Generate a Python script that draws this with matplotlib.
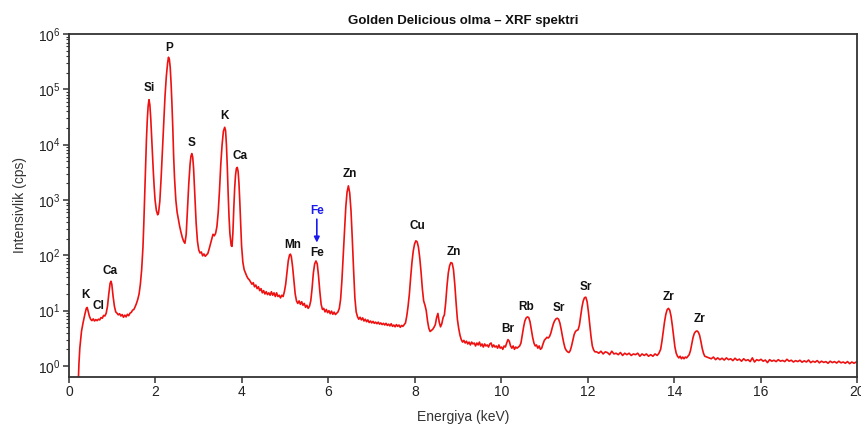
import numpy as np
import matplotlib
matplotlib.use("Agg")
import matplotlib.pyplot as plt
from matplotlib.ticker import LogLocator, NullFormatter, FixedLocator

plt.rcParams['font.family'] = ['Liberation Sans', 'DejaVu Sans']
plt.rcParams['mathtext.fontset'] = 'custom'
plt.rcParams['mathtext.rm'] = 'Liberation Sans'
plt.rcParams['mathtext.it'] = 'Liberation Sans'
plt.rcParams['mathtext.bf'] = 'Liberation Sans:bold'
plt.rcParams['mathtext.default'] = 'regular'

# ---- spectrum: (energy keV, intensity cps) ----
spectrum_low = [
    (0.21, 0.4), (0.23, 1.1), (0.25, 2.1), (0.29, 4.3), (0.33, 6.3), (0.37, 8.8),
    (0.40, 11.0), (0.42, 11.4), (0.44, 10.0), (0.47, 8.0), (0.50, 7.0), (0.53, 6.6),
    (0.56, 7.1), (0.59, 6.5), (0.62, 6.9), (0.65, 6.6), (0.68, 7.0), (0.71, 6.8),
    (0.74, 7.5), (0.77, 7.3), (0.80, 8.2), (0.83, 8.0), (0.86, 9.0), (0.89, 12.0),
    (0.92, 20.0), (0.95, 31.0), (0.97, 34.0), (0.99, 30.0), (1.02, 18.0), (1.05, 12.0),
    (1.08, 9.5), (1.11, 9.0), (1.14, 8.4), (1.17, 8.8), (1.20, 8.0), (1.23, 8.5),
    (1.26, 7.6), (1.29, 8.3), (1.32, 7.7), (1.35, 8.6), (1.38, 8.1), (1.41, 9.0),
    (1.44, 9.3), (1.47, 10.2), (1.50, 10.5), (1.53, 11.8), (1.56, 13.5), (1.59, 16.0),
]
spectrum_major = [
    (1.62, 20), (1.65, 30), (1.68, 55), (1.71, 140), (1.73, 380), (1.75, 1200),
    (1.77, 4000), (1.79, 12000), (1.81, 28000), (1.83, 50000), (1.85, 65000),
    (1.87, 52000), (1.89, 30000), (1.91, 14000), (1.93, 6500), (1.95, 3200),
    (1.97, 1700), (1.99, 1000), (2.02, 650), (2.05, 540), (2.07, 580), (2.10, 950),
    (2.13, 2500), (2.16, 8000), (2.19, 25000), (2.22, 75000), (2.25, 170000),
    (2.28, 300000), (2.30, 380000), (2.32, 350000), (2.34, 250000), (2.36, 130000),
    (2.38, 55000), (2.40, 20000), (2.42, 6000), (2.44, 2500), (2.47, 1000),
    (2.50, 600), (2.53, 440), (2.56, 330), (2.59, 260), (2.62, 210), (2.65, 180),
    (2.68, 165), (2.71, 240), (2.74, 700), (2.77, 2000), (2.80, 4500), (2.82, 6200),
    (2.84, 6900), (2.86, 6000), (2.88, 3800), (2.90, 1800), (2.92, 800), (2.94, 380),
    (2.97, 180), (3.00, 125), (3.03, 110), (3.06, 115), (3.09, 98), (3.12, 106),
    (3.15, 96), (3.18, 102), (3.21, 108), (3.24, 130), (3.27, 160), (3.30, 200),
    (3.33, 240), (3.36, 225), (3.39, 250), (3.42, 330), (3.45, 600), (3.48, 1500),
    (3.51, 4500), (3.54, 10000), (3.57, 17500), (3.60, 20600), (3.62, 18000),
    (3.64, 10000), (3.66, 4000), (3.68, 1300), (3.70, 500), (3.72, 250), (3.75, 150),
    (3.77, 145), (3.79, 260), (3.81, 700), (3.83, 1600), (3.85, 2800), (3.87, 3700),
    (3.89, 3880), (3.91, 3300), (3.93, 2000), (3.95, 900), (3.97, 350), (3.99, 150),
]
spectrum_mid = [
    (4.02, 75), (4.05, 55), (4.08, 48), (4.11, 42), (4.14, 38), (4.17, 36), (4.20, 33),
    (4.23, 30), (4.26, 32), (4.29, 27), (4.32, 29), (4.35, 25), (4.38, 27), (4.41, 23),
    (4.44, 25), (4.47, 21), (4.50, 23), (4.53, 20), (4.56, 22), (4.59, 19.5), (4.62, 21),
    (4.65, 19), (4.68, 22), (4.71, 19), (4.74, 21), (4.77, 18), (4.80, 21), (4.83, 18),
    (4.86, 19), (4.89, 17), (4.92, 19), (4.95, 18), (4.98, 22), (5.01, 30), (5.04, 50),
    (5.07, 80), (5.10, 102), (5.12, 105), (5.14, 95), (5.17, 62), (5.20, 35), (5.23, 20),
    (5.26, 15), (5.29, 13.5), (5.32, 15), (5.35, 13), (5.38, 14.5), (5.41, 12.5),
    (5.44, 13.5), (5.47, 11.5), (5.50, 12.5), (5.53, 11), (5.56, 12), (5.59, 15),
    (5.62, 25), (5.65, 48), (5.68, 70), (5.71, 79), (5.74, 70), (5.77, 42), (5.80, 22),
    (5.83, 13), (5.86, 10.5), (5.89, 11), (5.92, 9.5), (5.95, 10.5), (5.98, 9.2),
    (6.01, 10), (6.04, 8.8), (6.07, 9.8), (6.10, 8.6), (6.13, 9.4), (6.16, 8.5),
    (6.19, 9.0), (6.22, 9.5), (6.25, 11), (6.28, 16), (6.31, 35), (6.34, 100),
    (6.37, 300), (6.40, 750), (6.43, 1400), (6.46, 1800), (6.49, 1350), (6.52, 650),
    (6.55, 200), (6.58, 55), (6.61, 17), (6.64, 9.5), (6.67, 7.8), (6.70, 7.0),
    (6.73, 7.6), (6.76, 6.8), (6.79, 7.4), (6.82, 6.5), (6.85, 7.0), (6.88, 6.3),
    (6.91, 6.8), (6.94, 6.1), (6.97, 6.5), (7.00, 6.0), (7.03, 6.4), (7.06, 5.9),
    (7.09, 6.2), (7.12, 5.8), (7.15, 6.2), (7.18, 5.7), (7.21, 6.0), (7.24, 5.6),
    (7.27, 5.9), (7.30, 5.5), (7.33, 5.9), (7.36, 5.4), (7.39, 5.7), (7.42, 5.3),
    (7.45, 5.8), (7.48, 5.2), (7.51, 5.5), (7.54, 5.1), (7.57, 5.6), (7.60, 5.2),
    (7.63, 5.5), (7.66, 5.0), (7.69, 5.4), (7.72, 5.2), (7.75, 5.6),
]
spectrum_high = [
    (7.78, 6.0), (7.81, 8), (7.84, 12), (7.87, 20), (7.90, 40), (7.93, 75), (7.96, 120),
    (7.99, 160), (8.02, 183), (8.05, 175), (8.08, 140), (8.11, 90), (8.14, 50),
    (8.17, 25), (8.20, 15), (8.23, 12.6), (8.26, 10), (8.29, 6.5), (8.32, 4.8),
    (8.35, 4.2), (8.38, 4.4), (8.41, 4.6), (8.44, 5.0), (8.47, 5.6), (8.50, 7.5),
    (8.53, 8.9), (8.56, 6.2), (8.59, 5.1), (8.62, 5.8), (8.65, 7.5), (8.68, 8.4),
    (8.71, 14), (8.74, 28), (8.77, 48), (8.80, 65), (8.83, 74), (8.86, 72), (8.89, 55),
    (8.92, 30), (8.95, 14), (8.98, 7), (9.01, 4.8), (9.04, 3.6), (9.07, 3.0),
    (9.10, 2.7), (9.13, 2.9), (9.16, 2.6), (9.19, 2.8), (9.22, 2.5), (9.25, 2.7),
    (9.28, 2.4), (9.31, 2.7), (9.34, 2.5), (9.37, 2.6), (9.40, 2.3), (9.43, 2.6),
    (9.46, 2.4), (9.49, 2.7), (9.52, 2.3), (9.55, 2.5), (9.58, 2.2), (9.61, 2.5),
    (9.64, 2.3), (9.67, 2.4), (9.70, 2.2), (9.73, 2.5), (9.76, 2.6), (9.79, 2.2),
    (9.82, 2.4), (9.85, 2.2), (9.88, 2.3), (9.91, 2.1), (9.94, 2.4), (9.97, 2.1),
    (10.00, 2.2), (10.03, 2.0), (10.06, 2.3), (10.09, 2.2), (10.12, 2.6), (10.15, 3.0),
    (10.18, 2.8), (10.21, 2.3), (10.24, 2.1), (10.27, 2.3), (10.30, 2.0), (10.33, 2.2),
    (10.36, 2.1), (10.39, 2.2), (10.42, 2.3), (10.45, 2.6), (10.48, 3.6), (10.51, 5.0),
    (10.54, 6.5), (10.57, 7.4), (10.60, 7.7), (10.63, 7.5), (10.66, 6.3), (10.69, 4.6),
    (10.72, 3.3), (10.75, 2.6), (10.78, 2.3), (10.81, 2.4), (10.84, 2.1), (10.87, 2.3),
    (10.90, 2.0), (10.93, 2.1), (10.96, 2.5), (10.99, 2.9), (11.02, 3.1), (11.05, 3.3),
    (11.08, 3.2), (11.11, 3.4), (11.14, 3.9), (11.17, 4.8), (11.20, 5.8), (11.23, 6.6),
    (11.26, 7.1), (11.29, 7.3), (11.32, 7.0), (11.35, 6.0), (11.38, 4.6), (11.41, 3.4),
    (11.44, 2.6), (11.47, 2.1), (11.50, 1.9), (11.53, 1.8), (11.56, 1.75), (11.59, 1.9),
    (11.62, 2.3), (11.65, 2.9), (11.68, 3.7), (11.71, 4.2), (11.74, 4.4), (11.77, 4.5),
    (11.80, 5.4), (11.83, 7.8), (11.86, 11.5), (11.89, 15.0), (11.92, 17.2),
    (11.95, 17.5), (11.98, 14.5), (12.01, 9.5), (12.04, 5.8), (12.07, 3.4),
    (12.10, 2.3), (12.13, 1.95), (12.16, 1.8),
]
spectrum_tail = [
    (12.20, 1.8), (12.25, 1.7), (12.30, 1.85), (12.35, 1.65), (12.40, 1.8), (12.45, 1.75),
    (12.50, 1.6), (12.55, 1.85), (12.60, 1.65), (12.65, 1.7), (12.70, 1.6), (12.75, 1.75),
    (12.80, 1.55), (12.85, 1.7), (12.90, 1.6), (12.95, 1.7), (13.00, 1.55), (13.05, 1.65),
    (13.10, 1.6), (13.15, 1.7), (13.20, 1.5), (13.25, 1.65), (13.30, 1.55), (13.35, 1.65),
    (13.40, 1.5), (13.45, 1.6), (13.50, 1.5), (13.55, 1.65), (13.60, 1.55), (13.64, 1.7),
    (13.68, 2.0), (13.71, 2.8), (13.74, 4.2), (13.77, 6.3), (13.80, 8.6), (13.83, 10.4),
    (13.86, 11.0), (13.89, 10.2), (13.92, 8.0), (13.95, 5.4), (13.98, 3.4), (14.01, 2.2),
    (14.04, 1.7), (14.07, 1.5), (14.10, 1.4), (14.13, 1.5), (14.16, 1.35), (14.19, 1.45),
    (14.22, 1.35), (14.25, 1.45), (14.28, 1.4), (14.31, 1.5), (14.34, 1.6), (14.37, 1.9),
    (14.40, 2.5), (14.43, 3.3), (14.46, 3.9), (14.49, 4.2), (14.52, 4.3), (14.55, 4.1),
    (14.58, 3.6), (14.61, 2.8), (14.64, 2.1), (14.67, 1.7), (14.70, 1.5), (14.75, 1.45),
    (14.80, 1.4), (14.85, 1.35), (14.90, 1.45), (14.95, 1.3), (15.00, 1.4), (15.05, 1.3),
    (15.10, 1.38), (15.15, 1.28), (15.20, 1.4), (15.25, 1.3), (15.30, 1.35), (15.35, 1.25),
    (15.40, 1.38), (15.45, 1.27), (15.50, 1.33), (15.55, 1.22), (15.60, 1.35), (15.65, 1.25),
    (15.70, 1.3), (15.75, 1.2), (15.80, 1.4), (15.85, 1.18), (15.90, 1.3), (15.95, 1.25),
    (16.00, 1.32), (16.05, 1.22), (16.10, 1.28), (16.15, 1.15), (16.20, 1.3), (16.25, 1.22),
    (16.30, 1.27), (16.35, 1.2), (16.40, 1.3), (16.45, 1.22), (16.50, 1.26), (16.55, 1.2),
    (16.60, 1.32), (16.65, 1.22), (16.70, 1.27), (16.75, 1.18), (16.80, 1.25), (16.85, 1.2),
    (16.90, 1.27), (16.95, 1.17), (17.00, 1.24), (17.05, 1.18), (17.10, 1.28), (17.15, 1.15),
    (17.20, 1.22), (17.25, 1.17), (17.30, 1.25), (17.35, 1.14), (17.40, 1.22), (17.45, 1.16),
    (17.50, 1.2), (17.55, 1.12), (17.60, 1.22), (17.65, 1.15), (17.70, 1.2), (17.75, 1.13),
    (17.80, 1.22), (17.85, 1.14), (17.90, 1.18), (17.95, 1.12), (18.00, 1.2), (18.05, 1.1),
    (18.10, 1.18), (18.15, 1.12), (18.22, 1.2),
]

# ---- peak labels ----
label_text = ['K', 'Cl', 'Ca', 'Si', 'P', 'S', 'K', 'Ca', 'Mn', 'Fe', 'Zn', 'Cu',
              'Zn', 'Br', 'Rb', 'Sr', 'Sr', 'Zr', 'Zr']
label_E = [0.39, 0.68, 0.95, 1.85, 2.31, 2.84, 3.60, 3.95, 5.17, 5.73, 6.50, 8.05,
           8.90, 10.15, 10.57, 11.33, 11.96, 13.87, 14.57]
label_I = [19, 12.2, 52, 107000, 560000, 10700, 33000, 6300, 156, 112, 2900, 340,
           117, 4.7, 11.7, 11.2, 27, 17.6, 7.0]

fe_marker_E = 5.73
fe_marker_text_I = 645
fe_arrow_from_I = 450
fe_arrow_to_I = 170

x_tick_pos = [0, 2, 4, 6, 8, 10, 12, 14, 16, 18.22]
x_tick_lab = ['0', '2', '4', '6', '8', '10', '12', '14', '16', '20']

all_pts = spectrum_low + spectrum_major + spectrum_mid + spectrum_high + spectrum_tail
energy = np.array([p[0] for p in all_pts])
intensity = np.array([p[1] for p in all_pts])

fig = plt.figure(figsize=(8.61, 4.24), dpi=100)
ax = fig.add_axes([69/861, 1 - 376.7/424, (857-69)/861, (376.7-34)/424])

ax.plot(energy, intensity, color='#ee1111', lw=1.2)
ax.set_yscale('log')
ax.set_xlim(0, 18.22)
ax.set_ylim(0.64, 1e6)

ax.xaxis.set_major_locator(FixedLocator(x_tick_pos))
ax.set_xticklabels(x_tick_lab)
ax.yaxis.set_major_locator(FixedLocator([1, 10, 100, 1e3, 1e4, 1e5, 1e6]))
ax.yaxis.set_minor_locator(FixedLocator([m * 10.0**d for d in range(0, 6) for m in range(2, 10)]))
ax.yaxis.set_minor_formatter(NullFormatter())

spine_c = '#333333'
for s in ax.spines.values():
    s.set_color(spine_c)
    s.set_linewidth(1.3)
ax.tick_params(axis='both', which='major', direction='out', length=4, width=1.1,
               color=spine_c, labelsize=10, labelcolor='#222222', pad=2)
ax.tick_params(axis='y', which='minor', direction='out', length=2.5, width=0.8, color=spine_c)
ax.tick_params(top=False, right=False)

for t, e, i in zip(label_text, label_E, label_I):
    ax.text(e, i, t, ha='center', va='center', fontsize=8.5, fontweight='bold', color='#111111')

ax.text(fe_marker_E, fe_marker_text_I, 'Fe', ha='center', va='center', fontsize=8.5,
        fontweight='bold', color='#1a1aee')
ax.annotate('', xy=(fe_marker_E, fe_arrow_to_I), xytext=(fe_marker_E, fe_arrow_from_I),
            arrowprops=dict(arrowstyle='-|>', color='#1a1aee', lw=1.2, mutation_scale=8,
                            shrinkA=0, shrinkB=0))

ax.set_title('Golden Delicious olma – XRF spektri', fontsize=9.5, fontweight='bold',
             color='#111111', pad=7)
ax.set_xlabel('Energiya (keV)', fontsize=10, color='#333333', labelpad=8)
ax.set_ylabel('Intensivlik (cps)', fontsize=10, color='#333333', labelpad=8)

fig.savefig('out.png', dpi=100)
